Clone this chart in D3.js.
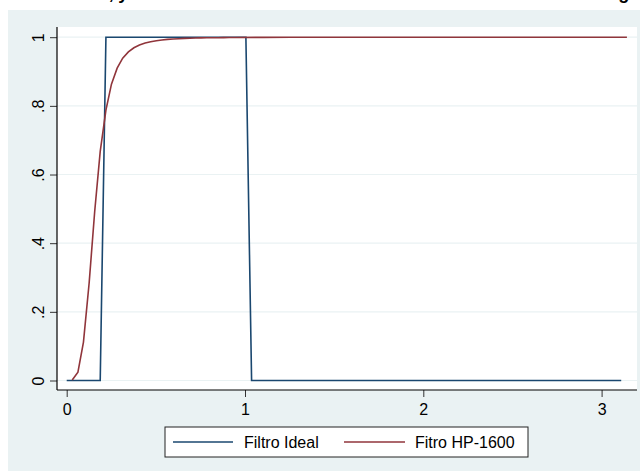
<!DOCTYPE html>
<html>
<head>
<meta charset="utf-8">
<script src="https://cdn.jsdelivr.net/npm/d3@7"></script>
<style>
  html, body { margin: 0; padding: 0; background: #ffffff; }
  svg { display: block; font-family: "Liberation Sans", Arial, sans-serif; }
</style>
</head>
<body>
<svg id="chart" width="640" height="471"></svg>
<script>
// Ideal band-pass gain: zero outside the band, one inside (frequency in radians)
const idealFreq = [0, 0.188, 0.220, 1.005, 1.037, 3.110];
const idealGain = [0, 0, 1, 1, 0, 0];

// HP filter (lambda = 1600) gain by frequency
const hpFreq = [0.031, 0.063, 0.094, 0.126, 0.157, 0.188, 0.220, 0.251, 0.283, 0.314,
                0.346, 0.377, 0.408, 0.440, 0.471, 0.503, 0.534, 0.565, 0.597, 0.628,
                0.660, 0.691, 0.723, 0.754, 0.785, 0.817, 0.848, 0.880, 0.911, 0.942,
                1.100, 1.257, 1.414, 1.571, 1.885, 2.199, 2.513, 2.827, 3.142];
const hpGain = [0.0016, 0.0243, 0.1119, 0.2847, 0.4924, 0.6676, 0.7878, 0.8633, 0.9098, 0.9388,
                0.9572, 0.9693, 0.9774, 0.9830, 0.9870, 0.9899, 0.9920, 0.9936, 0.9948, 0.9957,
                0.9965, 0.9970, 0.9975, 0.9979, 0.9982, 0.9984, 0.9986, 0.9988, 0.9990, 0.9991,
                0.9995, 0.9997, 0.9998, 0.9998, 0.9999, 0.9999, 1.0000, 1.0000, 1.0000];

const xTicks = [0, 1, 2, 3];
const yTicks = [0, 0.2, 0.4, 0.6, 0.8, 1];
const yTickLabels = ["0", ".2", ".4", ".6", ".8", "1"];
const seriesNames = ["Filtro Ideal", "Fitro HP-1600"];
const seriesColors = ["#1a476f", "#90353b"];
const titleText = "Ganancia, y filtros ideal e HP-1600 en el dominio de frecuencias del rango";

const svg = d3.select("#chart");
const W = 640, H = 471;
const plot = { left: 57, right: 637, top: 27, bottom: 390 };

const x = d3.scaleLinear().domain([0, 3]).range([66.7, 601.6]);
const y = d3.scaleLinear().domain([0, 1]).range([380.5, 37.2]);

// page title (sits above the panel, running off the top edge)
svg.append("text")
  .attr("x", 30).attr("y", -1)
  .attr("text-anchor", "start")
  .attr("font-size", 18).attr("font-weight", "bold")
  .attr("fill", "#000")
  .attr("textLength", 610).attr("lengthAdjust", "spacing")
  .text(titleText);

// outer panel
svg.append("rect")
  .attr("x", 8).attr("y", 10).attr("width", W - 8).attr("height", H - 10)
  .attr("fill", "#eaf2f3");

// plot region
svg.append("rect")
  .attr("x", plot.left).attr("y", plot.top)
  .attr("width", plot.right - plot.left).attr("height", plot.bottom - plot.top)
  .attr("fill", "#ffffff");

// horizontal grid
svg.append("g").selectAll("line").data(yTicks).join("line")
  .attr("x1", plot.left).attr("x2", plot.right)
  .attr("y1", d => y(d)).attr("y2", d => y(d))
  .attr("stroke", "#eaf2f3").attr("stroke-width", 1.2);

// y axis
const yAxis = d3.axisLeft(y).tickValues(yTicks).tickSize(7).tickSizeOuter(0)
  .tickFormat((d, i) => yTickLabels[i]);
const gy = svg.append("g").attr("transform", `translate(${plot.left},0)`).call(yAxis);
gy.select(".domain").remove();
gy.selectAll(".tick line").attr("stroke", "#333").attr("stroke-width", 1);
gy.selectAll(".tick text")
  .attr("font-size", 16).attr("fill", "#000")
  .attr("font-family", "Liberation Sans, Arial, sans-serif")
  .attr("x", 0).attr("dy", 0)
  .attr("text-anchor", "middle")
  .attr("transform", "translate(-13,0) rotate(-90)");
svg.append("line")
  .attr("x1", plot.left).attr("x2", plot.left)
  .attr("y1", plot.top).attr("y2", plot.bottom)
  .attr("stroke", "#000").attr("stroke-width", 1.2);

// x axis
const xAxis = d3.axisBottom(x).tickValues(xTicks).tickSize(7).tickSizeOuter(0)
  .tickFormat(d3.format("d"));
const gx = svg.append("g").attr("transform", `translate(0,${plot.bottom})`).call(xAxis);
gx.select(".domain").remove();
gx.selectAll(".tick line").attr("stroke", "#333").attr("stroke-width", 1);
gx.selectAll(".tick text")
  .attr("font-size", 16).attr("fill", "#000")
  .attr("font-family", "Liberation Sans, Arial, sans-serif")
  .attr("y", 25).attr("dy", 0);
svg.append("line")
  .attr("x1", plot.left).attr("x2", plot.right)
  .attr("y1", plot.bottom).attr("y2", plot.bottom)
  .attr("stroke", "#000").attr("stroke-width", 1.2);

// series
const line = d3.line().x(d => x(d[0])).y(d => y(d[1]));
const idealPts = idealFreq.map((f, i) => [f, idealGain[i]]);
const hpPts = hpFreq.map((f, i) => [f, hpGain[i]]);

svg.append("path").datum(idealPts)
  .attr("d", line).attr("fill", "none")
  .attr("stroke", seriesColors[0]).attr("stroke-width", 1.6);
svg.append("path").datum(hpPts)
  .attr("d", line).attr("fill", "none")
  .attr("stroke", seriesColors[1]).attr("stroke-width", 1.6);

// legend
const lg = svg.append("g");
lg.append("rect")
  .attr("x", 165).attr("y", 427).attr("width", 363).attr("height", 30)
  .attr("fill", "#fff").attr("stroke", "#222").attr("stroke-width", 1);
const legendItems = [
  { x0: 173, x1: 233, tx: 244 },
  { x0: 344, x1: 405, tx: 415 }
];
legendItems.forEach((it, i) => {
  lg.append("line")
    .attr("x1", it.x0).attr("x2", it.x1).attr("y1", 442).attr("y2", 442)
    .attr("stroke", seriesColors[i]).attr("stroke-width", 1.6);
  lg.append("text")
    .attr("x", it.tx).attr("y", 448)
    .attr("font-size", 16).attr("fill", "#000")
    .text(seriesNames[i]);
});
</script>
</body>
</html>
